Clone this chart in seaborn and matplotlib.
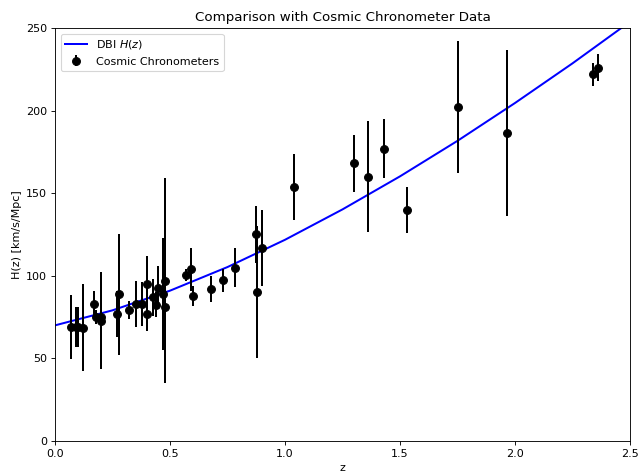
import numpy as np
import pandas as pd
import matplotlib
matplotlib.use('Agg')
import matplotlib.pyplot as plt
import seaborn as sns

# cosmic chronometer points: redshift, H(z), 1-sigma error
z_cc = [0.07, 0.09, 0.10, 0.12, 0.17, 0.179, 0.199, 0.20, 0.27, 0.28,
        0.32, 0.352, 0.3802, 0.40, 0.4004, 0.4247, 0.44, 0.4497, 0.47, 0.4783,
        0.48, 0.57, 0.593, 0.60, 0.68, 0.73, 0.781, 0.875, 0.88, 0.90,
        1.037, 1.30, 1.363, 1.43, 1.53, 1.75, 1.965, 2.34, 2.36]
H_cc = [69, 69, 69, 68.6, 83, 75, 75, 72.9, 77, 88.8,
        79.2, 83, 83, 95, 77, 87.1, 82.6, 92.8, 89, 80.9,
        97, 100.3, 104, 87.9, 92, 97.3, 105, 125, 90, 117,
        154, 168, 160, 177, 140, 202, 186.5, 222, 226]
sig_cc = [19.6, 12, 12, 26.2, 8, 4, 5, 29.6, 14, 36.6,
          5.6, 14, 13.5, 17, 10.2, 11.2, 7.8, 12.9, 34, 9,
          62, 3.7, 13, 6.1, 8, 7, 12, 17, 40, 23,
          20, 17, 33.6, 18, 14, 40, 50.4, 7, 8]

# DBI model curve
z_model = [0.0, 0.25, 0.5, 0.75, 1.0, 1.25, 1.5, 1.75, 2.0, 2.25, 2.5]
H_model = [70.0, 79.1, 91.0, 105.3, 121.8, 140.2, 160.2, 181.7, 204.6, 228.6, 253.8]

model_df = pd.DataFrame({'z': z_model, 'H': H_model})

DPI = 80
fig, ax = plt.subplots(figsize=(638/DPI, 476/DPI), dpi=DPI)
sns.lineplot(data=model_df, x='z', y='H', color='blue', linewidth=1.8,
             label='DBI $H(z)$', ax=ax)
ax.errorbar(z_cc, H_cc, yerr=sig_cc, fmt='o', color='black', markersize=7,
            elinewidth=1.8, label='Cosmic Chronometers')

ax.set_xlim(0, 2.5)
ax.set_ylim(0, 250)
ax.set_xlabel('z')
ax.set_ylabel('H(z) [km/s/Mpc]')
ax.set_title('Comparison with Cosmic Chronometer Data')
ax.legend(loc='upper left')

plt.subplots_adjust(left=55/638, right=630/638, top=1-28/476, bottom=1-441/476)
plt.savefig('out.png', dpi=DPI)
